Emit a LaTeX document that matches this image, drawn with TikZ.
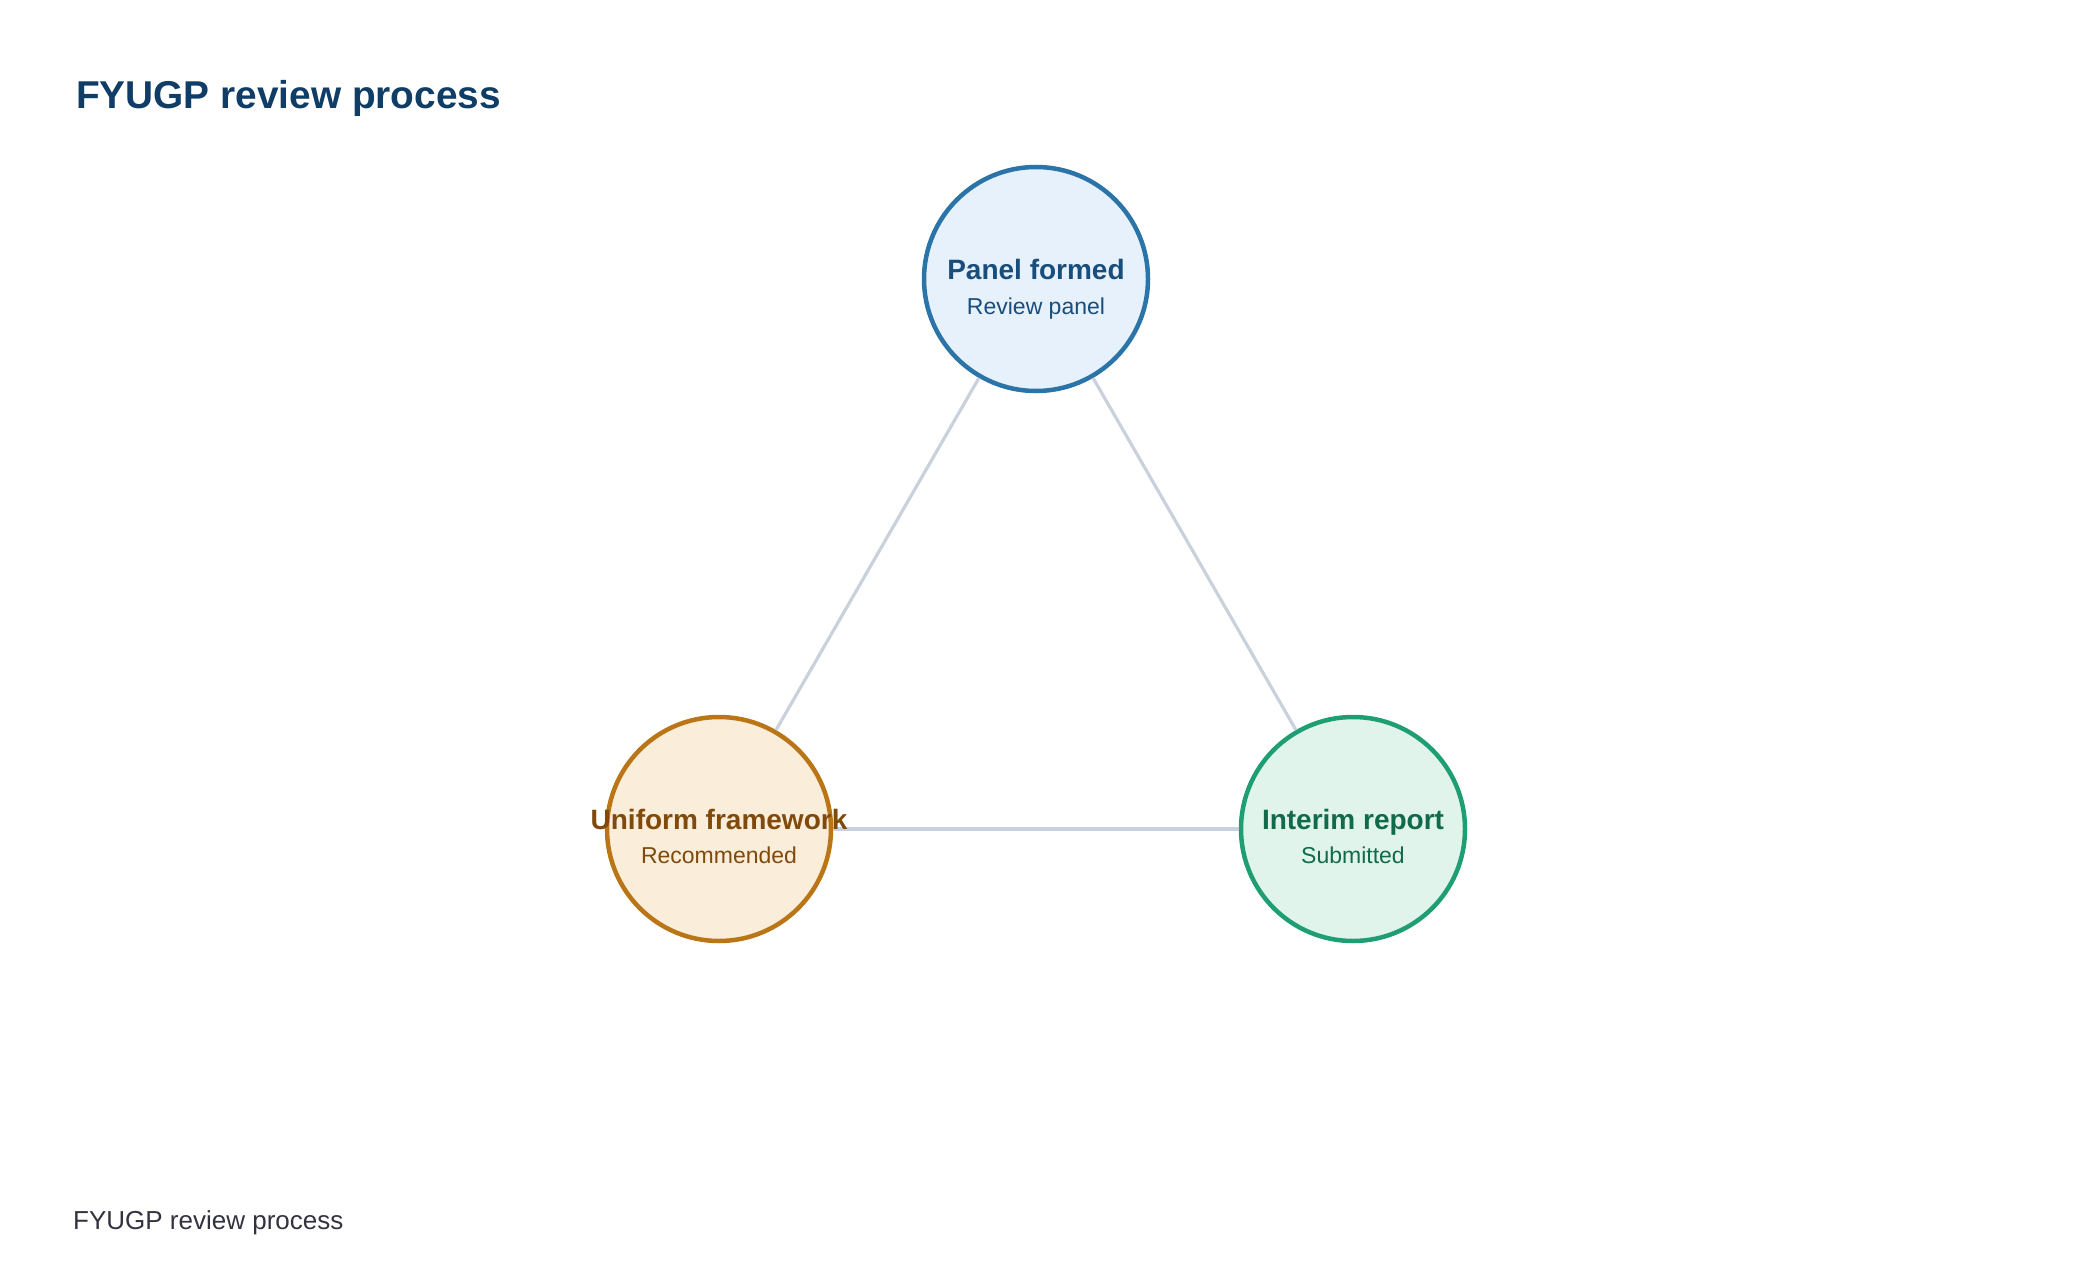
\documentclass[tikz,border=0pt]{standalone}
\usepackage{fontspec}
\setmainfont{Liberation Sans}
\definecolor{titlec}{HTML}{0F3D66}
\definecolor{footc}{HTML}{33333F}
\definecolor{linec}{HTML}{C9D1DC}
\definecolor{bstroke}{HTML}{2A74A8}
\definecolor{bfill}{HTML}{E7F1FB}
\definecolor{btext}{HTML}{194D7B}
\definecolor{ostroke}{HTML}{BA7517}
\definecolor{ofill}{HTML}{FAEDDA}
\definecolor{otext}{HTML}{7F4A0C}
\definecolor{gstroke}{HTML}{1F9E74}
\definecolor{gfill}{HTML}{E1F4EC}
\definecolor{gtext}{HTML}{0F6B4C}
\begin{document}
\begin{tikzpicture}[x=1pt,y=-1pt,
  stage/.style={circle, line width=4.5pt, minimum size=224pt, inner sep=0pt},
  headtxt/.style={anchor=base, inner sep=0pt, font=\fontsize{28}{34}\selectfont\bfseries},
  subtxt/.style={anchor=base, inner sep=0pt, font=\fontsize{23}{28}\selectfont},
  link/.style={draw=linec, line width=3.2pt}]
\useasboundingbox (0,0) rectangle (2080,1284);
\node[anchor=base west, inner sep=0pt, text=titlec, font=\fontsize{38.8}{46}\selectfont\bfseries] (title) at (76,109) {FYUGP review process};
\node[anchor=base west, inner sep=0pt, text=footc, font=\fontsize{26}{31}\selectfont] (foot) at (73,1229) {FYUGP review process};
\node[stage, draw=bstroke, fill=bfill] (panel) at (1036,279) {};
\node[stage, draw=ostroke, fill=ofill] (uniform) at (719,829) {};
\node[stage, draw=gstroke, fill=gfill] (interim) at (1353,829) {};
\draw[link] (panel) -- (uniform);
\draw[link] (panel) -- (interim);
\draw[link] (uniform) -- (interim);
\node[headtxt, text=btext] (panelh) at ([yshift=-0.5pt]panel.center) {Panel formed};
\node[subtxt, text=btext] (panels) at ([yshift=-35pt]panel.center) {Review panel};
\node[headtxt, text=otext] (uniformh) at ([yshift=-0.5pt]uniform.center) {Uniform framework};
\node[subtxt, text=otext] (uniforms) at ([yshift=-34.5pt]uniform.center) {Recommended};
\node[headtxt, text=gtext] (interimh) at ([yshift=-0.5pt]interim.center) {Interim report};
\node[subtxt, text=gtext] (interims) at ([yshift=-34.5pt]interim.center) {Submitted};
\end{tikzpicture}
\end{document}
